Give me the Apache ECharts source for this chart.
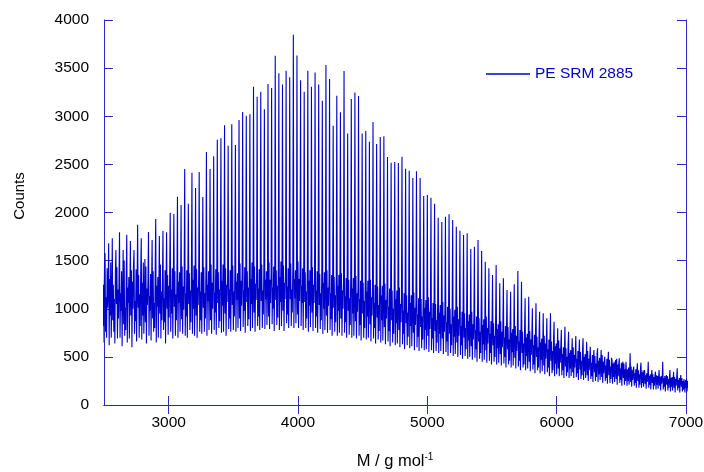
<!DOCTYPE html>
<html><head><meta charset="utf-8">
<script src="https://cdn.jsdelivr.net/npm/echarts@6/dist/echarts.min.js"></script>
<style>html,body{margin:0;padding:0;background:#fff}#c{width:704px;height:472px}</style>
</head><body><div id="c"></div>
<script>
// Spectrum sampled every 4 g/mol starting at 2480; oligomer peaks repeat every 28 g/mol (7 samples)
const sampleStart = 2480;
const sampleStep = 4;
const xTicks = [3000, 4000, 5000, 6000, 7000];
const seriesName = 'PE SRM 2885';

// height of each oligomer peak (one per 28 g/mol)
const peakCounts = [
1600,1579,1680,1732,1610,1794,1610,1770,1704,1610,
1873,1732,1517,1797,1714,1932,1756,1808,1794,1998,
1984,2164,2078,2452,2092,2414,2255,2421,2161,2629,
2452,2584,2757,2771,2906,2694,2916,2701,2961,3044,
3006,3020,3307,3203,3255,3072,3335,3294,3629,3446,
3330,3473,3404,3847,3632,3373,3255,3473,3307,3455,
3331,3162,3532,3387,2902,3214,3041,3470,2822,3179,
3248,3210,2822,2847,2736,2940,2711,2785,2792,2577,
2518,2525,2514,2580,2455,2434,2358,2428,2358,2171,
2182,2154,2092,1946,1900,1956,1981,1922,1853,1811,
1766,1784,1620,1645,1714,1600,1489,1420,1351,1455,
1264,1316,1195,1177,1254,1392,1281,1108,1125,1004,
1056,969,952,900,952,866,797,779,813,762,
693,717,680,693,658,606,571,589,571,502,
554,468,468,485,450,433,537,398,433,440,
364,450,364,346,364,450,312,364,346,381,
312,277,250
];

// six noise samples between consecutive peaks
const gapCounts = [
[980,1380,650,1250,820,1460],[760,1120,700,1420,1010,1190],[620,1310,930,1480,700,1050],[880,1250,760,1100,640,1370],
[1050,1430,690,1200,900,1290],[700,1160,980,1390,610,1120],[840,1500,720,1010,780,1340],[650,1220,1060,1330,690,1180],
[930,1400,600,1280,1000,1450],[740,1080,870,1410,660,1230],[1010,1350,700,1150,820,1390],[680,1270,930,1480,740,1060],
[860,1440,640,1210,1040,1300],[720,1130,980,1360,670,1250],[900,1390,760,1060,800,1420],[650,1240,1020,1330,700,1150],
[950,1460,690,1180,880,1300],[780,1110,860,1400,640,1270],[1000,1350,730,1240,910,1380],
[760,1200,950,1420,690,1280],[1020,1390,720,1150,880,1330],[700,1280,1060,1380,760,1170],[890,1440,740,1230,990,1350],
[720,1160,920,1400,700,1260],[1050,1370,780,1190,860,1420],[740,1300,1000,1450,720,1140],[930,1410,700,1220,1040,1330],
[760,1180,880,1380,740,1280],[1010,1430,760,1160,900,1400],[720,1250,1080,1390,780,1190],[880,1460,740,1270,1000,1340],
[780,1170,960,1410,730,1300],[1060,1380,800,1200,870,1440],[750,1290,1030,1460,760,1180],[950,1420,720,1250,1070,1350],
[790,1200,900,1400,760,1310],[1040,1450,780,1180,920,1420],[760,1280,1090,1370,800,1230],[900,1470,770,1290,1030,1360],
[810,1190,980,1430,750,1320],[1070,1390,820,1220,890,1460],[770,1310,1050,1480,800,1200],[960,1440,760,1260,1090,1370],
[820,1210,920,1410,780,1330],[1080,1460,800,1190,940,1430],[790,1300,1100,1390,830,1250],[920,1480,790,1300,1060,1380],
[840,1220,1000,1440,770,1340],[1090,1400,830,1240,910,1470],[780,1330,1070,1490,820,1210],[980,1450,770,1270,1100,1390],
[850,1230,940,1420,800,1350],[1100,1470,820,1200,960,1440],[800,1310,1110,1400,850,1270],[940,1490,800,1310,1080,1390],
[820,1240,1060,1420,780,1300],[1070,1380,800,1180,900,1440],[760,1290,1030,1400,810,1200],[960,1430,770,1250,1060,1330],
[800,1190,920,1390,750,1290],[1040,1360,790,1160,880,1410],[740,1270,1000,1380,780,1180],[930,1400,750,1220,1030,1310],
[780,1160,890,1350,720,1260],[1010,1330,760,1140,860,1380],[720,1240,980,1350,750,1150],[900,1370,720,1190,1000,1280],
[750,1130,860,1320,700,1230],[980,1300,730,1110,830,1350],[700,1210,950,1320,720,1120],[870,1340,690,1160,970,1250],
[720,1100,830,1290,670,1200],[950,1270,700,1080,800,1310],
[680,1180,920,1290,700,1090],[840,1300,660,1120,930,1210],[690,1060,800,1250,640,1160],[910,1230,680,1040,770,1270],
[650,1140,880,1240,670,1050],[810,1260,630,1090,900,1170],[660,1020,770,1210,610,1120],[880,1190,650,1000,740,1230],
[620,1100,850,1190,640,1010],[780,1220,600,1050,860,1130],[630,980,740,1160,580,1080],[850,1140,620,960,710,1180],
[590,1060,820,1140,610,970],[750,1170,570,1010,830,1080],[600,940,710,1110,560,1040],[810,1100,590,920,680,1130],
[570,1010,780,1090,580,930],[720,1120,550,970,790,1040],
[570,900,690,1060,540,990],[770,1050,560,880,650,1080],[540,960,740,1040,560,890],[690,1070,530,930,760,1000],
[550,860,660,1020,510,960],[740,1000,540,840,620,1040],[510,920,710,990,530,850],[650,1020,500,890,720,950],
[520,820,620,970,480,910],[700,950,510,800,580,990],[480,870,670,940,500,800],[610,970,470,840,680,900],
[490,780,580,920,450,860],[660,900,480,760,540,940],[450,830,630,890,470,760],[570,920,440,800,640,850],
[460,740,540,870,420,810],[620,850,450,720,500,890],
[420,790,590,840,440,720],[530,870,410,760,600,800],[430,700,500,820,390,770],[580,810,420,680,460,840],
[390,750,550,790,410,680],[490,820,380,720,560,750],[400,660,460,780,360,730],[540,760,390,640,420,790],
[360,700,510,740,380,640],[450,770,350,680,520,700],[370,620,420,730,330,690],[500,710,360,600,390,740],
[330,650,470,690,350,600],[410,720,320,640,480,650],[340,580,390,680,300,640],[460,660,330,560,360,690],
[300,610,430,640,320,560],[380,670,300,590,440,610],
[310,530,360,600,280,560],[400,590,300,500,340,600],[280,540,380,570,300,500],[340,600,280,520,390,540],
[290,480,330,560,260,530],[370,550,270,460,310,570],[260,500,350,530,280,460],[310,560,250,480,360,500],
[270,440,300,520,240,490],[340,510,250,430,290,530],[240,460,320,490,260,430],[290,520,230,450,330,460],
[250,410,280,480,220,450],[310,470,230,400,270,490],[220,430,290,450,240,400],[270,480,210,420,300,420],
[230,380,260,440,200,410],[280,430,210,370,250,450],
[200,370,250,390,210,340],[240,400,190,360,260,370],[200,330,230,370,180,350],[250,360,180,320,210,380],
[180,340,230,360,190,320],[220,310,170,330,240,300],[180,300,210,320,160,290],[230,320,160,290,200,310],
[160,310,210,300,170,280],[200,290,150,300,220,280],[160,280,190,300,140,270],[210,300,150,270,180,290],
[140,280,190,290,150,260],[180,290,130,270,200,280],[150,260,180,280,130,270],[190,280,140,250,160,270],
[130,260,180,270,140,250],[170,270,120,250,180,260]
];

const spectrum = [];
for (let n = 0; n < peakCounts.length; n++) {
  const row = [peakCounts[n]].concat(gapCounts[n]);
  for (let k = 0; k < row.length; k++) {
    spectrum.push([sampleStart + (n * row.length + k) * sampleStep, row[k]]);
  }
}

const blue = '#0000cc';
const axisBlue = '#2a2acc';
const font = 'Liberation Sans, Arial, sans-serif';
const plain = v => String(v);

const chart = echarts.init(document.getElementById('c'), null, {renderer: 'canvas'});
chart.setOption({
  animation: false,
  backgroundColor: '#fff',
  grid: {left: 104, right: 18, top: 20, bottom: 67, containLabel: false, outerBoundsMode: 'none'},
  legend: {
    left: 486, top: 66, padding: 0,
    icon: 'rect', itemWidth: 44, itemHeight: 1.5, itemGap: 7,
    textStyle: {color: blue, fontSize: 15.5, fontFamily: font},
    data: [seriesName]
  },
  graphic: [{
    type: 'text', x: 20, y: 196, rotation: Math.PI / 2,
    style: {text: 'Counts', fill: '#000', font: '15px ' + font, align: 'center', verticalAlign: 'middle'}
  }],
  xAxis: [{
    type: 'value', min: 2500, max: 7000, position: 'bottom',
    name: 'M / g mol{sup|-1}', nameLocation: 'middle', nameGap: 47,
    nameTextStyle: {color: '#000', fontSize: 16.5, fontFamily: font,
      rich: {sup: {fontSize: 10, fontFamily: font, color: '#000', padding: [0, 0, 9, 0]}}},
    axisLine: {show: true, lineStyle: {color: axisBlue, width: 1}},
    axisTick: {show: true, inside: true, length: 9, customValues: xTicks, lineStyle: {color: axisBlue}},
    axisLabel: {show: true, customValues: xTicks, color: '#000', fontSize: 15.5, fontFamily: font, margin: 10, formatter: plain},
    splitLine: {show: false}
  }, {
    type: 'value', min: 2500, max: 7000, position: 'top',
    axisLine: {show: true, lineStyle: {color: axisBlue, width: 1}},
    axisTick: {show: true, inside: true, length: 9, customValues: xTicks, lineStyle: {color: axisBlue}},
    axisLabel: {show: false},
    splitLine: {show: false}
  }],
  yAxis: [{
    type: 'value', min: 0, max: 4000, interval: 500, position: 'left',
    axisLine: {show: true, lineStyle: {color: axisBlue, width: 1}},
    axisTick: {show: true, inside: true, length: 9, lineStyle: {color: axisBlue}},
    axisLabel: {color: '#000', fontSize: 15.5, fontFamily: font, margin: 15, formatter: plain},
    splitLine: {show: false}
  }, {
    type: 'value', min: 0, max: 4000, interval: 500, position: 'right',
    axisLine: {show: true, lineStyle: {color: axisBlue, width: 1}},
    axisTick: {show: true, inside: true, length: 9, lineStyle: {color: axisBlue}},
    axisLabel: {show: false},
    splitLine: {show: false}
  }],
  series: [{
    name: seriesName, type: 'line', xAxisIndex: 0, yAxisIndex: 0,
    data: spectrum, showSymbol: false, symbol: 'none', clip: true,
    lineStyle: {color: blue, width: 1.1}, itemStyle: {color: blue},
    emphasis: {disabled: true}
  }]
});
</script>
</body></html>
